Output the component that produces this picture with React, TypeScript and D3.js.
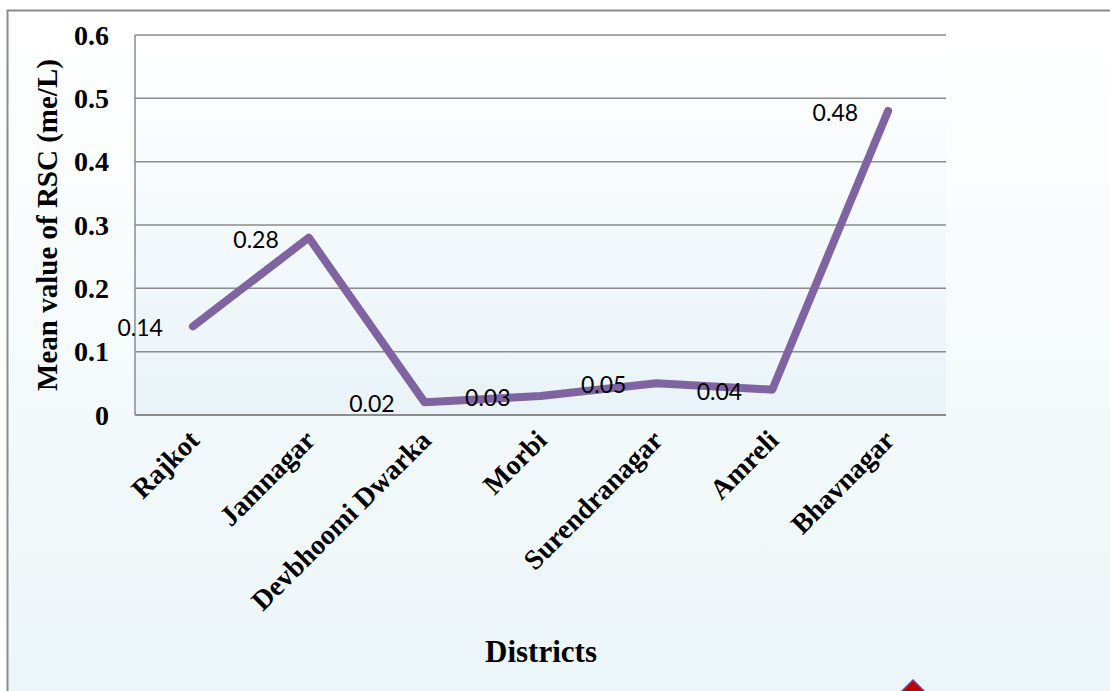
import React from "react";
import * as d3 from "d3";

const districts = ["Rajkot", "Jamnagar", "Devbhoomi Dwarka", "Morbi", "Surendranagar", "Amreli", "Bhavnagar"];
const rscMeans = [0.14, 0.28, 0.02, 0.03, 0.05, 0.04, 0.48];
const yTicks = [0, 0.1, 0.2, 0.3, 0.4, 0.5, 0.6];

const W = 1110;
const H = 691;
const plot = { left: 135, right: 946, top: 35, bottom: 415 };

export default function App() {
  const x = d3.scaleBand<string>().domain(districts).range([plot.left, plot.right]);
  const y = d3.scaleLinear().domain([0, 0.6]).range([plot.bottom, plot.top]);
  const cx = (d: string) => (x(d) ?? 0) + x.bandwidth() / 2;

  const line = d3
    .line<number>()
    .x((_, i) => cx(districts[i]))
    .y((v) => y(v));

  const serif = "'Liberation Serif', 'Times New Roman', serif";
  const sans = "Lato, 'Open Sans', sans-serif";

  return (
    <svg
      width={W}
      height={H}
      style={{ position: "absolute", left: 0, top: 0 }}
    >
      <defs>
        <linearGradient id="chartBg" x1="0" y1="0" x2="0" y2="1">
          <stop offset="0" stopColor="#ffffff" />
          <stop offset="1" stopColor="#ebf5f8" />
        </linearGradient>
        <linearGradient id="plotBg" x1="0" y1="0" x2="0" y2="1">
          <stop offset="0" stopColor="#ffffff" />
          <stop offset="1" stopColor="#e9f3f8" />
        </linearGradient>
      </defs>

      <rect x={0} y={0} width={W} height={H} fill="#ffffff" />
      <rect
        x={7.5}
        y={10.5}
        width={W + 10}
        height={H + 10}
        fill="url(#chartBg)"
        stroke="#8c8c8c"
        strokeWidth={2}
      />

      <rect
        x={plot.left}
        y={plot.top}
        width={plot.right - plot.left}
        height={plot.bottom - plot.top}
        fill="url(#plotBg)"
      />

      {yTicks.map((t) => (
        <line
          key={t}
          x1={plot.left}
          x2={plot.right}
          y1={y(t)}
          y2={y(t)}
          stroke="#8c8c8c"
          strokeWidth={t === 0 ? 2 : 1.5}
        />
      ))}
      <line x1={plot.left} x2={plot.left} y1={plot.top} y2={plot.bottom} stroke="#8c8c8c" strokeWidth={1.5} />

      {yTicks.map((t) => (
        <text
          key={`yl${t}`}
          x={109}
          y={y(t)}
          dy="0.35em"
          textAnchor="end"
          fontFamily={serif}
          fontWeight="bold"
          fontSize={28}
          fill="#000"
        >
          {t === 0 ? "0" : t.toFixed(1)}
        </text>
      ))}

      <text
        transform={`translate(57, ${(plot.top + plot.bottom) / 2}) rotate(-90)`}
        textAnchor="middle"
        fontFamily={serif}
        fontWeight="bold"
        fontSize={29}
        fill="#000"
      >
        Mean value of RSC (me/L)
      </text>

      <path
        d={line(rscMeans) ?? ""}
        fill="none"
        stroke="#8064a2"
        strokeWidth={8}
        strokeLinecap="round"
        strokeLinejoin="round"
      />

      {rscMeans.map((v, i) => (
        <text
          key={`dl${i}`}
          x={cx(districts[i]) - 30}
          y={y(v) + 2}
          dy="0.35em"
          textAnchor="end"
          fontFamily={sans}
          fontSize={23}
          fill="#000"
        >
          {v.toFixed(2)}
        </text>
      ))}

      {districts.map((d) => (
        <text
          key={d}
          transform={`translate(${cx(d) + 8}, 442) rotate(-45)`}
          textAnchor="end"
          fontFamily={serif}
          fontWeight="bold"
          fontSize={28}
          fill="#000"
        >
          {d}
        </text>
      ))}

      <text
        x={541}
        y={662}
        textAnchor="middle"
        fontFamily={serif}
        fontWeight="bold"
        fontSize={31}
        fill="#000"
      >
        Districts
      </text>

      <path
        d="M 913 680 L 925 692 L 913 704 L 901 692 Z"
        fill="#c00000"
        stroke="#6a4a9a"
        strokeWidth={1.5}
      />
    </svg>
  );
}
